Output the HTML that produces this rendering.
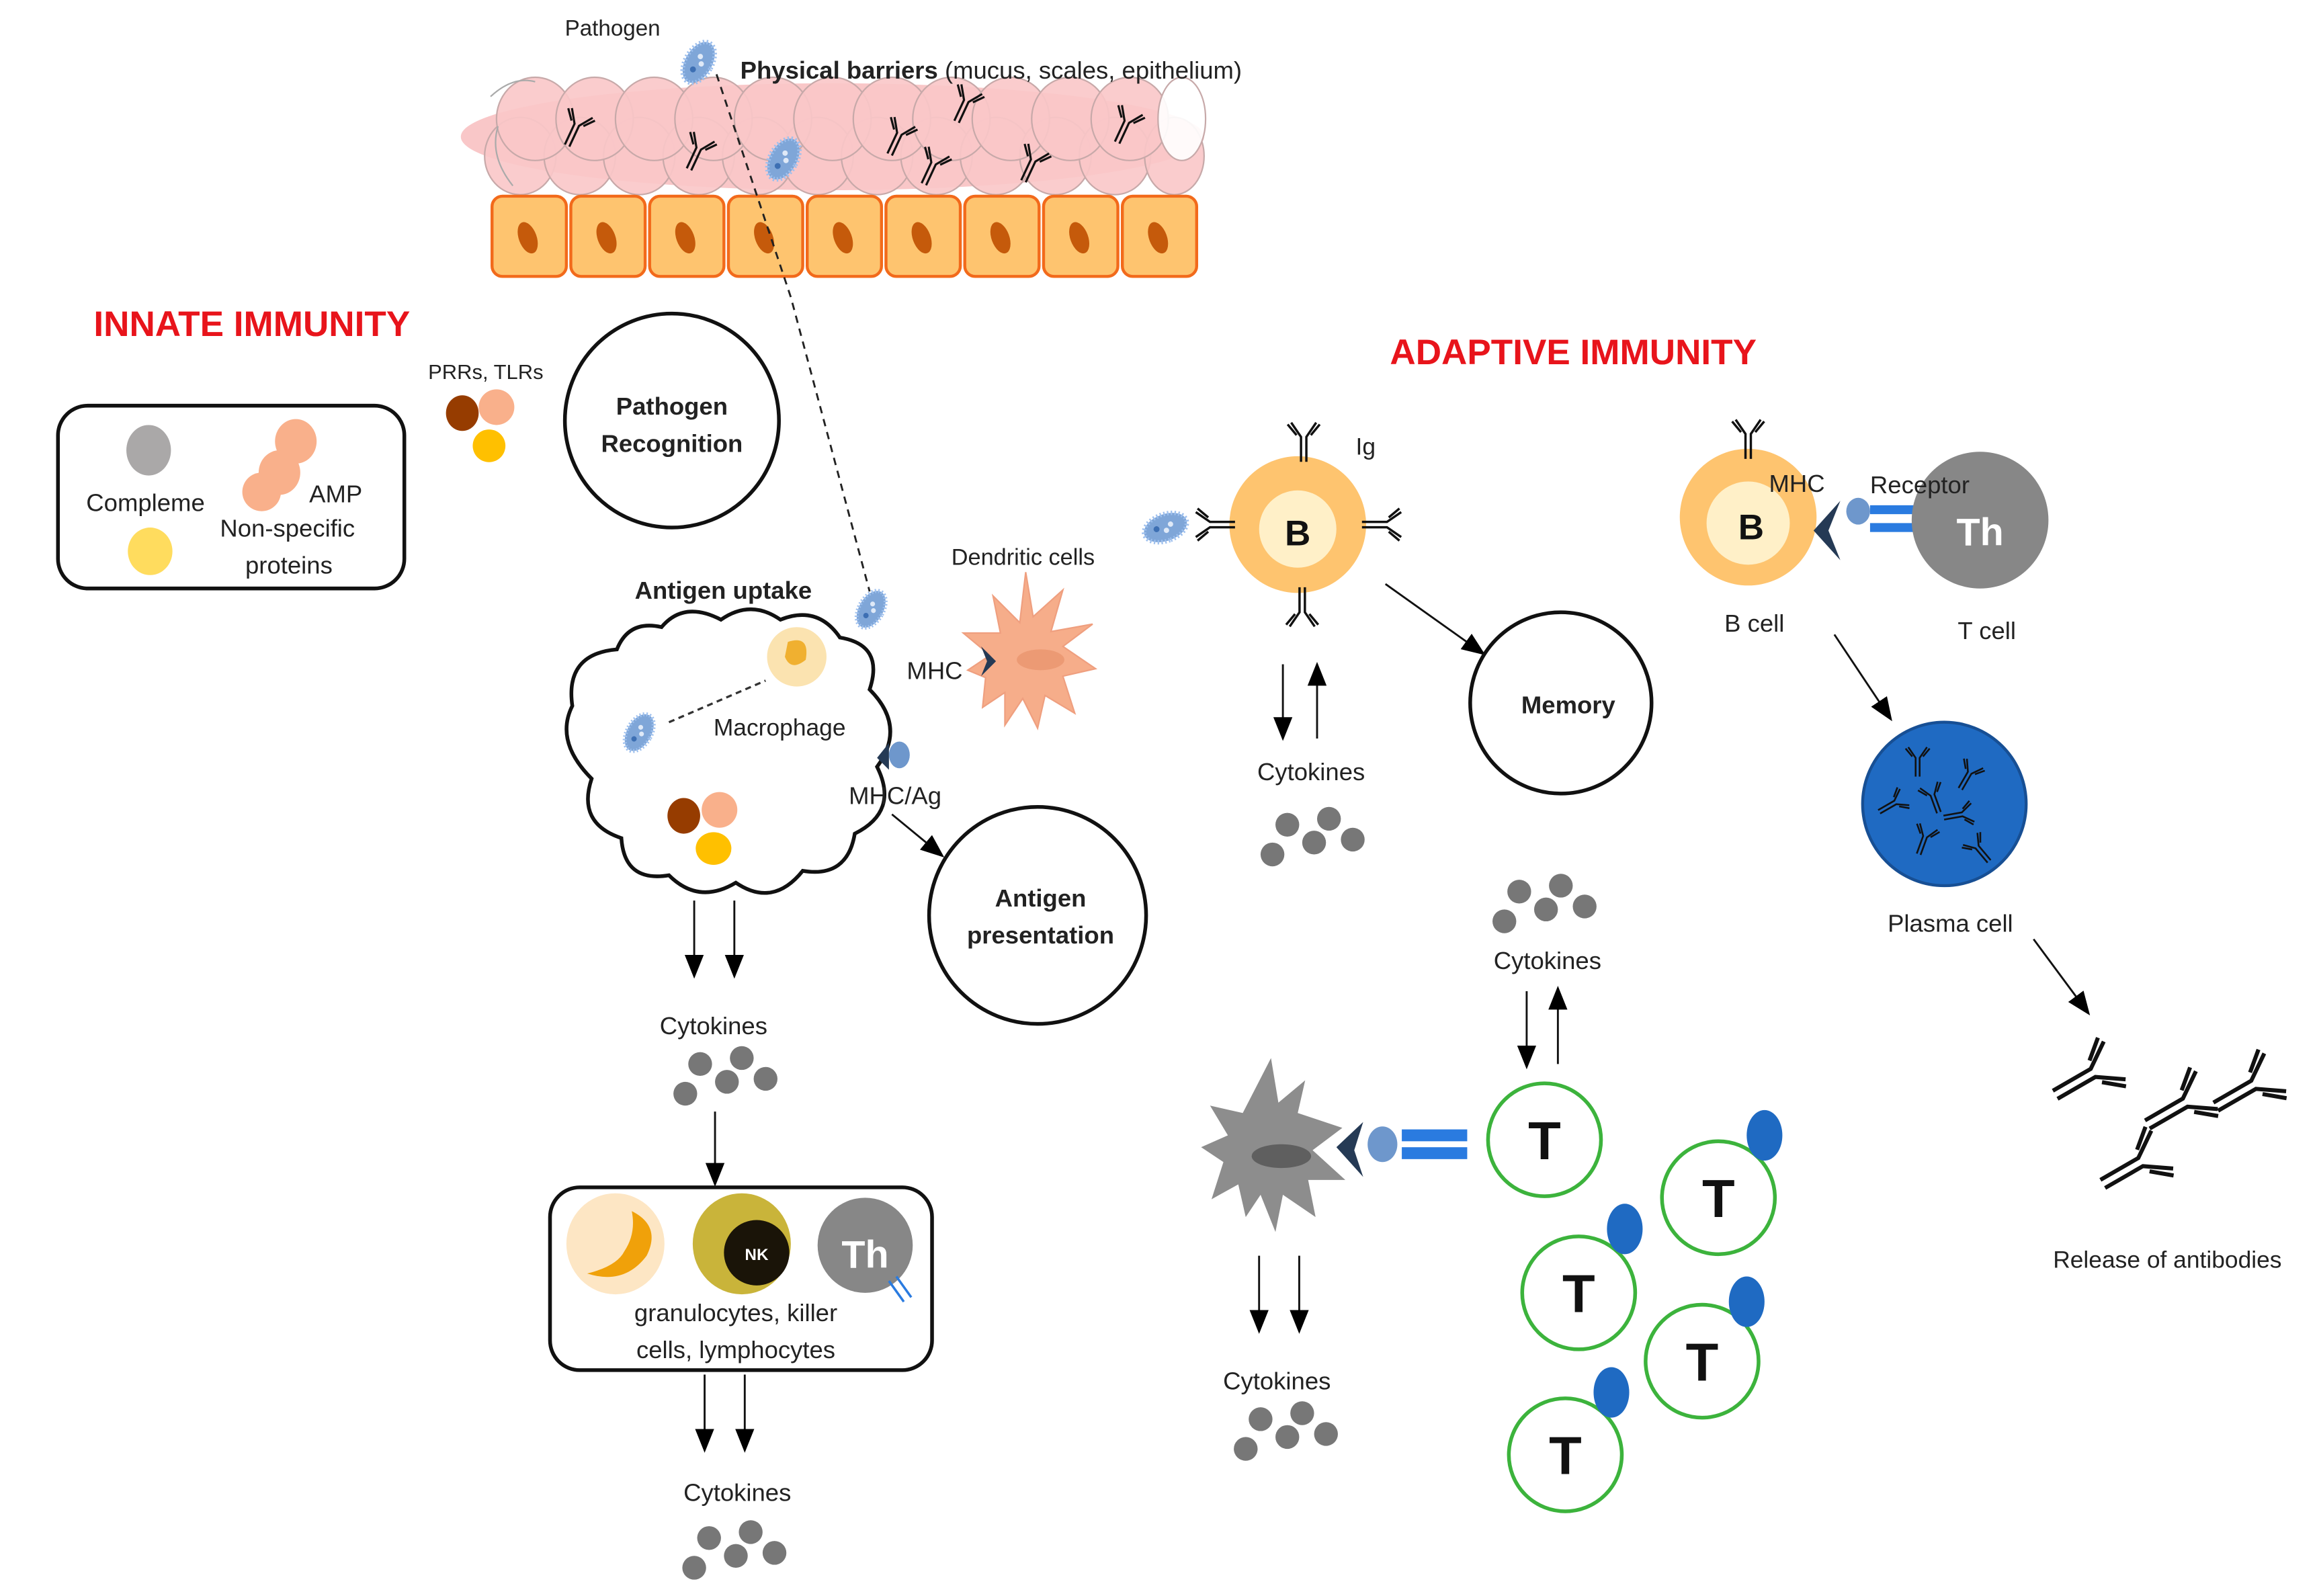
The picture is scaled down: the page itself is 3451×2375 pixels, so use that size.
<!DOCTYPE html>
<html><head><meta charset="utf-8"><style>
html,body{margin:0;padding:0;background:#fff}
svg{display:block}
text{font-family:"Liberation Sans",sans-serif;fill:#222}
</style></head><body>
<svg width="3451" height="2375" viewBox="0 0 1560 1074" preserveAspectRatio="none" xmlns="http://www.w3.org/2000/svg">
<defs>
<marker id="ah2" viewBox="0 0 10 10" refX="9" refY="5" markerWidth="16" markerHeight="16" orient="auto" markerUnits="userSpaceOnUse"><path d="M0,1 L10,5 L0,9 z" fill="#000"/></marker>
<g id="ab" fill="none" stroke="#111" stroke-width="1.3">
<path d="M-1.5,14 V0 L-7,-8 M1.5,14 V0 L7,-8 M-4,-1 L-9,-7 M4,-1 L9,-7"/>
</g>
<g id="pg">
<ellipse cx="0" cy="0" rx="9" ry="15" fill="#7fa6d8" stroke="#9ec0ee" stroke-width="3" stroke-dasharray="1 1.5"/>
<circle cx="-1" cy="-4" r="1.8" fill="#dfe9f7"/><circle cx="2" cy="0" r="1.8" fill="#dfe9f7"/><circle cx="-1" cy="6" r="2" fill="#3d6fb3"/>
</g>
<g id="cyt" fill="#777">
<ellipse cx="0" cy="20" rx="8" ry="8"/><ellipse cx="10" cy="0" rx="8" ry="8"/><ellipse cx="28" cy="12" rx="8" ry="8"/><ellipse cx="38" cy="-4" rx="8" ry="8"/><ellipse cx="54" cy="10" rx="8" ry="8"/>
</g>
<g id="tc"><circle r="38" fill="#fff" stroke="#3cb33c" stroke-width="2.5"/><text x="0" y="13" text-anchor="middle" font-size="36" font-weight="bold" style="fill:#111">T</text></g>
</defs>

<!-- epithelium -->
<ellipse cx="560" cy="92" rx="250" ry="36" fill="#f9c7c8"/>
<g fill="#f9c7c8" stroke="#c7a9a9" stroke-width="1" fill-opacity="0.9">
<ellipse cx="350" cy="105" rx="24" ry="26"/><ellipse cx="390" cy="105" rx="24" ry="26"/><ellipse cx="430" cy="105" rx="24" ry="26"/><ellipse cx="470" cy="105" rx="24" ry="26"/><ellipse cx="510" cy="105" rx="24" ry="26"/><ellipse cx="550" cy="105" rx="24" ry="26"/><ellipse cx="590" cy="105" rx="24" ry="26"/><ellipse cx="630" cy="105" rx="24" ry="26"/><ellipse cx="670" cy="105" rx="24" ry="26"/><ellipse cx="710" cy="105" rx="24" ry="26"/><ellipse cx="750" cy="105" rx="24" ry="26"/><ellipse cx="790" cy="105" rx="20" ry="26"/>
<ellipse cx="360" cy="80" rx="26" ry="28"/><ellipse cx="400" cy="80" rx="26" ry="28"/><ellipse cx="440" cy="80" rx="26" ry="28"/><ellipse cx="480" cy="80" rx="26" ry="28"/><ellipse cx="520" cy="80" rx="26" ry="28"/><ellipse cx="560" cy="80" rx="26" ry="28"/><ellipse cx="600" cy="80" rx="26" ry="28"/><ellipse cx="640" cy="80" rx="26" ry="28"/><ellipse cx="680" cy="80" rx="26" ry="28"/><ellipse cx="720" cy="80" rx="26" ry="28"/><ellipse cx="760" cy="80" rx="26" ry="28"/><ellipse cx="795" cy="80" rx="16" ry="28" fill="#fff"/>
</g>
<path d="M330,65 q15,-14 30,-10 M335,85 q-6,20 10,40" fill="none" stroke="#aaa" stroke-width="1"/>
<g fill="#fec46f" stroke="#f26a1b" stroke-width="2">
<rect x="331" y="132" width="50" height="54" rx="7"/><rect x="384" y="132" width="50" height="54" rx="7"/><rect x="437" y="132" width="50" height="54" rx="7"/><rect x="490" y="132" width="50" height="54" rx="7"/><rect x="543" y="132" width="50" height="54" rx="7"/><rect x="596" y="132" width="50" height="54" rx="7"/><rect x="649" y="132" width="50" height="54" rx="7"/><rect x="702" y="132" width="50" height="54" rx="7"/><rect x="755" y="132" width="50" height="54" rx="7"/>
</g>
<g fill="#c55a0b">
<ellipse cx="355" cy="160" rx="6" ry="11" transform="rotate(-20 355 160)"/><ellipse cx="408" cy="160" rx="6" ry="11" transform="rotate(-20 408 160)"/><ellipse cx="461" cy="160" rx="6" ry="11" transform="rotate(-20 461 160)"/><ellipse cx="514" cy="160" rx="6" ry="11" transform="rotate(-20 514 160)"/><ellipse cx="567" cy="160" rx="6" ry="11" transform="rotate(-20 567 160)"/><ellipse cx="620" cy="160" rx="6" ry="11" transform="rotate(-20 620 160)"/><ellipse cx="673" cy="160" rx="6" ry="11" transform="rotate(-20 673 160)"/><ellipse cx="726" cy="160" rx="6" ry="11" transform="rotate(-20 726 160)"/><ellipse cx="779" cy="160" rx="6" ry="11" transform="rotate(-20 779 160)"/>
</g>
<use href="#ab" transform="translate(388,84) rotate(25) scale(1.1)"/>
<use href="#ab" transform="translate(470,100) rotate(25) scale(1.1)"/>
<use href="#ab" transform="translate(605,90) rotate(25) scale(1.1)"/>
<use href="#ab" transform="translate(650,68) rotate(25) scale(1.1)"/>
<use href="#ab" transform="translate(628,110) rotate(25) scale(1.1)"/>
<use href="#ab" transform="translate(695,108) rotate(25) scale(1.1)"/>
<use href="#ab" transform="translate(758,82) rotate(25) scale(1.1)"/>
<text x="380" y="24" font-size="15">Pathogen</text>
<text x="498" y="53" font-size="16.5"><tspan font-weight="bold">Physical barriers</tspan> (mucus,  scales, epithelium)</text>
<use href="#pg" transform="translate(470,42) rotate(30)"/>
<path d="M482,50 L532,200 L585,398" fill="none" stroke="#222" stroke-width="1.3" stroke-dasharray="5 4"/>
<use href="#pg" transform="translate(527,107) rotate(30)"/>

<!-- innate -->
<text x="63" y="226" font-size="24" font-weight="bold" style="fill:#e8141b">INNATE IMMUNITY</text>
<text x="288" y="255" font-size="14">PRRs, TLRs</text>
<ellipse cx="311" cy="278" rx="11" ry="12" fill="#963c00"/><ellipse cx="334" cy="274" rx="12" ry="12" fill="#f9b08b"/><ellipse cx="329" cy="300" rx="11" ry="11" fill="#ffc000"/>
<rect x="39" y="273" width="233" height="123" rx="20" fill="none" stroke="#111" stroke-width="2.5"/>
<ellipse cx="100" cy="303" rx="15" ry="17" fill="#aaa8a8"/>
<ellipse cx="101" cy="371" rx="15" ry="16" fill="#ffdc5e"/>
<ellipse cx="199" cy="297" rx="14" ry="15" fill="#f9b08b"/><ellipse cx="188" cy="318" rx="14" ry="15" fill="#f9b08b"/><ellipse cx="176" cy="331" rx="13" ry="13" fill="#f9b08b"/>
<text x="58" y="344" font-size="16.5">Compleme</text>
<text x="208" y="338" font-size="16.5">AMP</text>
<text x="148" y="361" font-size="16.5">Non-specific</text>
<text x="165" y="386" font-size="16.5">proteins</text>
<circle cx="452" cy="283" r="72" fill="none" stroke="#111" stroke-width="2.5"/>
<text x="452" y="279" font-size="16.5" font-weight="bold" text-anchor="middle">Pathogen</text>
<text x="452" y="304" font-size="16.5" font-weight="bold" text-anchor="middle">Recognition</text>

<!-- macrophage cloud -->
<text x="427" y="403" font-size="16.5" font-weight="bold">Antigen uptake</text>
<path d="M385,475 q-5,-35 30,-38 q8,-20 30,-15 q15,-18 40,-5 q20,-14 40,0 q25,-10 40,12 q30,5 20,35 q25,25 5,52 q15,30 -15,45 q-5,30 -35,25 q-20,25 -45,8 q-25,15 -45,-5 q-30,5 -32,-25 q-30,-10 -20,-40 q-25,-25 -13,-49 z" fill="#fff" stroke="#111" stroke-width="2.5"/>
<circle cx="536" cy="442" r="20" fill="#fbe3b0"/><path d="M530,432 q15,-5 12,12 q-10,8 -14,-2 z" fill="#f0b030"/>
<use href="#pg" transform="translate(430,493) rotate(30) scale(0.9)"/>
<path d="M450,486 L515,458" stroke="#333" stroke-width="1.5" stroke-dasharray="4 3"/>
<text x="480" y="495" font-size="16">Macrophage</text>
<use href="#pg" transform="translate(586,410) rotate(30) scale(0.9)"/>
<path d="M598,500 l-8,10 l8,8 z" fill="#253a55"/><ellipse cx="605" cy="508" rx="7" ry="9" fill="#6e97cc"/>
<text x="571" y="541" font-size="16.5">MHC/Ag</text>
<ellipse cx="460" cy="549" rx="11" ry="12" fill="#963c00"/><ellipse cx="484" cy="545" rx="12" ry="12" fill="#f9b08b"/><ellipse cx="480" cy="571" rx="12" ry="11" fill="#ffc000"/>
<line x1="600" y1="548" x2="634" y2="576" stroke="#111" stroke-width="1.3" marker-end="url(#ah2)"/>
<circle cx="698" cy="616" r="73" fill="none" stroke="#111" stroke-width="2.5"/>
<text x="700" y="610" font-size="16.5" font-weight="bold" text-anchor="middle">Antigen</text>
<text x="700" y="635" font-size="16.5" font-weight="bold" text-anchor="middle">presentation</text>

<!-- dendritic -->
<text x="640" y="380" font-size="15.5">Dendritic cells</text>
<path d="M690,385 l5,30 l20,-18 l-8,28 l28,-5 l-20,15 l22,15 l-22,5 l8,25 l-20,-12 l-5,22 l-10,-20 l-12,18 l0,-22 l-15,10 l2,-20 l-12,-5 l15,-10 l-18,-15 l25,0 l-5,-25 l18,18 z" fill="#f6ad8a" stroke="#ef9f7f" stroke-width="1"/>
<ellipse cx="700" cy="444" rx="16" ry="7" fill="#ec9a74"/>
<path d="M660,435 l10,10 l-10,10 l4,-10 z" fill="#253a55"/>
<text x="610" y="457" font-size="16.5">MHC</text>

<!-- cytokines innate -->
<line x1="467" y1="606" x2="467" y2="657" stroke="#111" stroke-width="1.3" marker-end="url(#ah2)"/>
<line x1="494" y1="606" x2="494" y2="657" stroke="#111" stroke-width="1.3" marker-end="url(#ah2)"/>
<text x="480" y="696" font-size="16.5" text-anchor="middle">Cytokines</text>
<use href="#cyt" transform="translate(461,716)"/>
<line x1="481" y1="748" x2="481" y2="797" stroke="#111" stroke-width="1.3" marker-end="url(#ah2)"/>
<rect x="370" y="799" width="257" height="123" rx="20" fill="none" stroke="#111" stroke-width="2.5"/>
<ellipse cx="414" cy="837" rx="33" ry="34" fill="#fde6c4"/>
<path d="M425,815 q20,10 10,30 q-15,20 -40,12 q20,-5 25,-15 q8,-12 5,-27 z" fill="#f0a10a"/>
<ellipse cx="499" cy="837" rx="33" ry="34" fill="#c9b43a"/><circle cx="509" cy="843" r="22" fill="#1a1408"/>
<text x="509" y="848" font-size="11" font-weight="bold" text-anchor="middle" style="fill:#fff">NK</text>
<circle cx="582" cy="838" r="32" fill="#878787"/>
<text x="582" y="853" font-size="26" font-weight="bold" text-anchor="middle" style="fill:#fff">Th</text>
<path d="M598,862 l10,14 M603,859 l10,14" stroke="#2a7be0" stroke-width="1.6"/>
<text x="495" y="889" font-size="16.5" text-anchor="middle">granulocytes, killer</text>
<text x="495" y="914" font-size="16.5" text-anchor="middle">cells, lymphocytes</text>
<line x1="474" y1="925" x2="474" y2="976" stroke="#111" stroke-width="1.3" marker-end="url(#ah2)"/>
<line x1="501" y1="925" x2="501" y2="976" stroke="#111" stroke-width="1.3" marker-end="url(#ah2)"/>
<text x="496" y="1010" font-size="16.5" text-anchor="middle">Cytokines</text>
<use href="#cyt" transform="translate(467,1035)"/>

<!-- adaptive -->
<text x="935" y="245" font-size="24" font-weight="bold" style="fill:#e8141b">ADAPTIVE IMMUNITY</text>
<circle cx="873" cy="353" r="46" fill="#fec46f"/><circle cx="873" cy="356" r="26" fill="#fff0c8"/>
<text x="873" y="367" font-size="24" font-weight="bold" text-anchor="middle" style="fill:#111">B</text>
<use href="#ab" transform="translate(877,294) scale(1.2)"/>
<use href="#ab" transform="translate(876,412) rotate(180) scale(1.2)"/>
<use href="#ab" transform="translate(933,353) rotate(90) scale(1.2)"/>
<use href="#ab" transform="translate(814,353) rotate(-90) scale(1.2)"/>
<use href="#pg" transform="translate(784,355) rotate(70)"/>
<text x="912" y="306" font-size="16">Ig</text>
<line x1="863" y1="447" x2="863" y2="497" stroke="#111" stroke-width="1.3" marker-end="url(#ah2)"/>
<line x1="886" y1="497" x2="886" y2="447" stroke="#111" stroke-width="1.3" marker-end="url(#ah2)"/>
<text x="882" y="525" font-size="16.5" text-anchor="middle">Cytokines</text>
<use href="#cyt" transform="translate(856,555)"/>
<line x1="932" y1="393" x2="998" y2="440" stroke="#111" stroke-width="1.3" marker-end="url(#ah2)"/>
<circle cx="1050" cy="473" r="61" fill="none" stroke="#111" stroke-width="2.5"/>
<text x="1055" y="480" font-size="16.5" font-weight="bold" text-anchor="middle">Memory</text>

<circle cx="1176" cy="348" r="46" fill="#fec46f"/><circle cx="1176" cy="352" r="28" fill="#fff0c8"/>
<text x="1178" y="363" font-size="24" font-weight="bold" text-anchor="middle" style="fill:#111">B</text>
<use href="#ab" transform="translate(1176,292) scale(1.2)"/>
<path d="M1238,337 l-18,20 l18,20 l-8,-20 z" fill="#253a55"/>
<ellipse cx="1250" cy="344" rx="8" ry="9" fill="#6e97cc"/>
<rect x="1258" y="340" width="32" height="6" fill="#2a7be0"/><rect x="1258" y="352" width="32" height="6" fill="#2a7be0"/>
<circle cx="1332" cy="350" r="46" fill="#878787"/>
<text x="1332" y="367" font-size="26" font-weight="bold" text-anchor="middle" style="fill:#fff">Th</text>
<text x="1190" y="331" font-size="16.5">MHC</text>
<text x="1258" y="332" font-size="16.5">Receptor</text>
<text x="1160" y="425" font-size="16.5">B cell</text>
<text x="1317" y="430" font-size="16.5">T cell</text>
<line x1="1234" y1="427" x2="1272" y2="484" stroke="#111" stroke-width="1.3" marker-end="url(#ah2)"/>
<circle cx="1308" cy="541" r="55" fill="#1f6ac2" stroke="#174f94" stroke-width="2"/>
<use href="#ab" transform="translate(1290,510) scale(0.9)"/><use href="#ab" transform="translate(1325,520) rotate(30) scale(0.9)"/><use href="#ab" transform="translate(1300,535) rotate(-20) scale(0.9)"/><use href="#ab" transform="translate(1275,540) rotate(60) scale(0.9)"/><use href="#ab" transform="translate(1320,548) rotate(80) scale(0.9)"/><use href="#ab" transform="translate(1295,563) rotate(20) scale(0.9)"/><use href="#ab" transform="translate(1330,570) rotate(-40) scale(0.9)"/>
<text x="1312" y="627" font-size="16.5" text-anchor="middle">Plasma cell</text>
<line x1="1368" y1="632" x2="1405" y2="682" stroke="#111" stroke-width="1.3" marker-end="url(#ah2)"/>
<use href="#ab" transform="translate(1408,722) rotate(60) scale(2.1)"/>
<use href="#ab" transform="translate(1470,742) rotate(60) scale(2.1)"/>
<use href="#ab" transform="translate(1516,730) rotate(60) scale(2.1)"/>
<use href="#ab" transform="translate(1440,782) rotate(60) scale(2.1)"/>
<text x="1458" y="853" font-size="16" text-anchor="middle">Release of antibodies</text>

<!-- T cells -->
<use href="#cyt" transform="translate(1012,600)"/>
<text x="1041" y="652" font-size="16.5" text-anchor="middle">Cytokines</text>
<line x1="1027" y1="667" x2="1027" y2="718" stroke="#111" stroke-width="1.3" marker-end="url(#ah2)"/>
<line x1="1048" y1="716" x2="1048" y2="665" stroke="#111" stroke-width="1.3" marker-end="url(#ah2)"/>
<path d="M855,712 l5,30 l18,-15 l-5,22 l30,10 l-20,15 l22,20 l-25,0 l5,25 l-22,-15 l-5,25 l-10,-25 l-10,15 l-5,-22 l-18,10 l8,-25 l-15,-10 l18,-8 l-12,-20 l22,5 z" fill="#8d8d8d"/>
<ellipse cx="862" cy="778" rx="20" ry="8" fill="#5f5f5f"/>
<path d="M917,755 l-18,17 l18,20 l-6,-18 z" fill="#253a55"/>
<ellipse cx="930" cy="770" rx="10" ry="12" fill="#6e97cc"/>
<rect x="943" y="760" width="44" height="8" fill="#2a7be0"/><rect x="943" y="772" width="44" height="8" fill="#2a7be0"/>
<use href="#tc" transform="translate(1039,767)"/>
<use href="#tc" transform="translate(1156,806)"/>
<use href="#tc" transform="translate(1062,870)"/>
<use href="#tc" transform="translate(1145,916)"/>
<use href="#tc" transform="translate(1053,979)"/>
<g fill="#1f6ac2"><ellipse cx="1187" cy="764" rx="12" ry="17"/><ellipse cx="1093" cy="827" rx="12" ry="17"/><ellipse cx="1175" cy="876" rx="12" ry="17"/><ellipse cx="1084" cy="937" rx="12" ry="17"/></g>
<line x1="847" y1="845" x2="847" y2="896" stroke="#111" stroke-width="1.3" marker-end="url(#ah2)"/>
<line x1="874" y1="845" x2="874" y2="896" stroke="#111" stroke-width="1.3" marker-end="url(#ah2)"/>
<text x="859" y="935" font-size="16.5" text-anchor="middle">Cytokines</text>
<use href="#cyt" transform="translate(838,955)"/>
</svg>
</body></html>
